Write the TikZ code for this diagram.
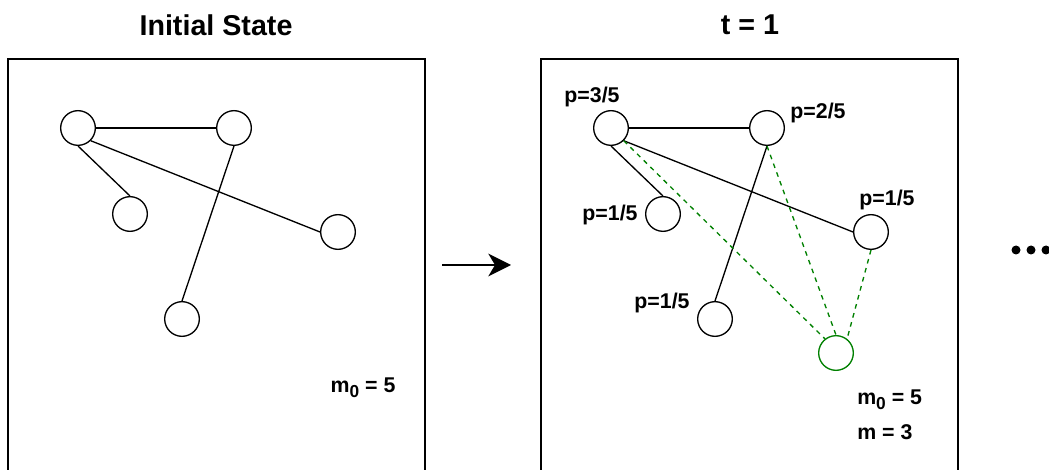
\documentclass[tikz,border=0pt]{standalone}
\usepackage{fontspec}
\setmainfont{Liberation Sans}
\usetikzlibrary{arrows.meta}
\newcommand{\subzero}{\raisebox{-4pt}{\fontsize{13}{15}\selectfont 0}}
\begin{document}
\begin{tikzpicture}[x=0.75pt,y=-0.75pt,
  vtx/.style={circle,draw,line width=1pt,minimum size=26pt,inner sep=0pt},
  newvtx/.style={vtx,draw=green!50!black},
  panel/.style={draw,line width=1pt},
  edge/.style={line width=1pt},
  newedge/.style={line width=1pt,draw=green!50!black,dash pattern=on 3.5pt off 3.5pt},
  title/.style={font=\fontsize{21.5}{25}\selectfont\bfseries},
  lbl/.style={font=\fontsize{16}{19}\selectfont\bfseries,inner sep=0pt},
  dot/.style={circle,fill,inner sep=0pt,minimum size=6.75pt}]
\useasboundingbox (0,0) rectangle (1049,470);
\clip (0,0) rectangle (1049,470);
% titles
\node[title] (t0) at (216,25) {Initial State};
\node[title] (t1) at (750,25) {t = 1};
% panels
\draw[panel] (8,59) rectangle (425,490);
\draw[panel] (541,59) rectangle (958,490);
% left graph
\node[vtx] (a) at (78,128) {};
\node[vtx] (b) at (234,128) {};
\node[vtx] (c) at (130,214) {};
\node[vtx] (d) at (338,232) {};
\node[vtx] (e) at (182,319) {};
\draw[edge] (a.east) -- (b.west);
\draw[edge] (a.south) -- (c.north);
\draw[edge] (a.south east) -- (d.west);
\draw[edge] (b.south) -- (e.north);
\node[lbl] (m0a) at (363,388) {m\subzero{} = 5};
% arrow
\coordinate (arS) at (442,265);
\coordinate (arE) at (511,265);
\draw[line width=1.5pt,-{Stealth[length=17pt,width=17pt,inset=5pt]}] (arS) -- (arE);
% right graph
\node[vtx] (a2) at (611,128) {};
\node[vtx] (b2) at (767,128) {};
\node[vtx] (c2) at (663,214) {};
\node[vtx] (d2) at (871,232) {};
\node[vtx] (e2) at (715,319) {};
\node[newvtx] (f2) at (836,353) {};
\draw[edge] (a2.east) -- (b2.west);
\draw[edge] (a2.south) -- (c2.north);
\draw[edge] (a2.south east) -- (d2.west);
\draw[edge] (b2.south) -- (e2.north);
\draw[newedge] (a2.south east) -- (f2.128);
\draw[newedge] (b2.south) -- (f2.north);
\draw[newedge] (d2.south) -- (f2.52);
\node[lbl] (pa) at (592,97) {p=3/5};
\node[lbl] (pb) at (818,113) {p=2/5};
\node[lbl] (pc) at (610,215) {p=1/5};
\node[lbl] (pd) at (887,200) {p=1/5};
\node[lbl] (pe) at (662,303) {p=1/5};
\node[lbl,anchor=west] (m0b) at (857,400) {m\subzero{} = 5};
\node[lbl,anchor=west] (mb) at (857,432) {m = 3};
% continuation dots
\node[dot] (d1) at (1016,250) {};
\node[dot] (d2b) at (1031,250) {};
\node[dot] (d3) at (1046,250) {};
\end{tikzpicture}
\end{document}
